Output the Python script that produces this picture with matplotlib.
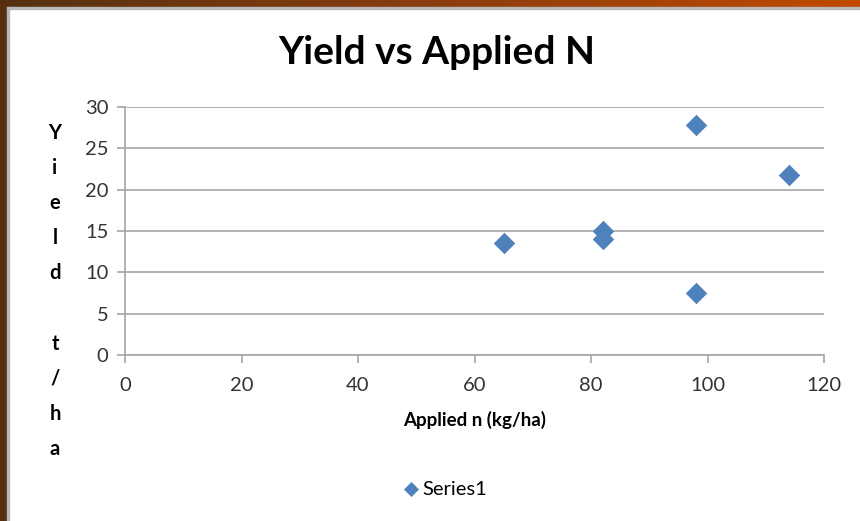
import numpy as np
import matplotlib.pyplot as plt
from matplotlib.patches import Rectangle

# data
applied_n = [65, 82, 82, 98, 114, 98]
yield_t = [13.5, 15.0, 14.0, 27.8, 21.8, 7.5]
x_ticks = [0, 20, 40, 60, 80, 100, 120]
y_ticks = [0, 5, 10, 15, 20, 25, 30]

plt.rcParams['font.family'] = ['Lato', 'DejaVu Sans']

fig = plt.figure(figsize=(8.6, 5.21), dpi=100)
W, H = 860, 521

# frame of the slide: brown gradient on top, dark strip on the left
grad = fig.add_axes([0, 1 - 7 / H, 1, 7 / H])
grad.imshow(np.linspace(0, 1, 256)[None, :], aspect='auto',
            cmap=plt.matplotlib.colors.LinearSegmentedColormap.from_list(
                'br', ['#55310f', '#8a3d10', '#c04a00']))
grad.axis('off')
fig.add_artist(Rectangle((0, 0), 7 / W, 1, transform=fig.transFigure,
                         color='#55310f', zorder=5))
fig.add_artist(Rectangle((7 / W, 0), 2 / W, 1 - 7 / H, transform=fig.transFigure,
                         color='#b8b8b8', zorder=5))
fig.add_artist(Rectangle((7 / W, 1 - 9 / H), 1 - 7 / W, 2 / H, transform=fig.transFigure,
                         color='#b8b8b8', zorder=5))

ax = fig.add_axes([125 / W, 1 - 355 / H, (824 - 125) / W, (355 - 107) / H])
ax.scatter(applied_n, yield_t, marker='D', s=120, color='#4f81bd', zorder=3,
           label='Series1', linewidths=0)

ax.set_xlim(0, 120)
ax.set_ylim(0, 30)
ax.set_xticks(x_ticks)
ax.set_yticks(y_ticks)
ax.grid(axis='y', color='#a6a6a6', linewidth=1.2)
ax.set_axisbelow(True)
for s in ['top', 'right']:
    ax.spines[s].set_visible(False)
for s in ['left', 'bottom']:
    ax.spines[s].set_color('#a6a6a6')
    ax.spines[s].set_linewidth(1.2)
ax.tick_params(axis='both', colors='#a6a6a6', labelcolor='#333333',
               labelsize=14.5, length=6, width=1.2, direction='out')
ax.tick_params(axis='x', pad=10)
ax.tick_params(axis='y', pad=6)

ax.set_xlabel('Applied n (kg/ha)', fontsize=13.5, fontweight='bold', labelpad=12)
fig.text(437 / W, 1 - 52 / H, 'Yield vs Applied N', ha='center', va='center',
         fontsize=28, fontweight='bold')
fig.text(55 / W, 1 - 291 / H, 'Y\ni\ne\nl\nd\n\nt\n/\nh\na', ha='center', va='center',
         fontsize=14.5, fontweight='bold', linespacing=1.94)

fig.legend(loc='center', bbox_to_anchor=(445 / W, 1 - 489 / H), frameon=False,
           fontsize=14.5, handlelength=0.8, handletextpad=0.2, markerscale=0.7)

fig.savefig('out.png', dpi=100)
